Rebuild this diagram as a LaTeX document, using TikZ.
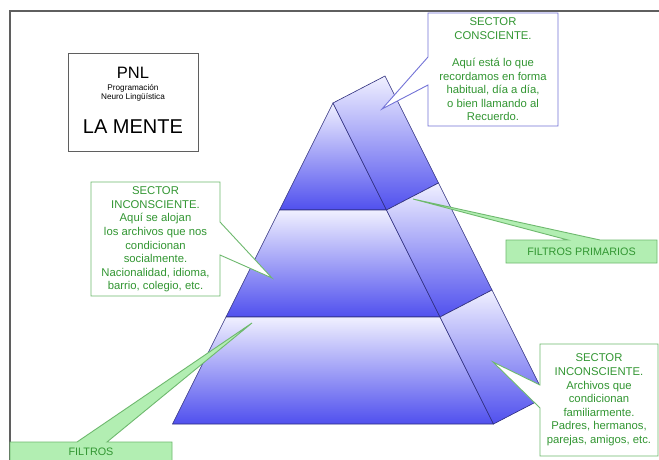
\documentclass[tikz,border=0pt]{standalone}
\usepackage{fontspec}
\setmainfont{Liberation Sans}
\definecolor{framegray}{RGB}{95,95,95}
\definecolor{navyline}{RGB}{45,45,125}
\definecolor{lightlav}{RGB}{240,240,255}
\definecolor{deepblue}{RGB}{80,80,238}
\definecolor{txtgreen}{RGB}{50,150,50}
\definecolor{boxgreen}{RGB}{110,185,110}
\definecolor{fillgreen}{RGB}{178,238,178}
\definecolor{bluebord}{RGB}{115,115,215}
\begin{document}
\begin{tikzpicture}[x=1pt,y=-1pt,
  tier/.style={draw=navyline,line width=0.6pt,top color=lightlav,bottom color=deepblue},
  callw/.style={draw=boxgreen,line width=0.9pt,fill=white},
  callb/.style={draw=bluebord,line width=0.9pt,fill=white},
  callg/.style={draw=boxgreen,line width=0.9pt,fill=fillgreen},
  ctext/.style={text=txtgreen,align=center,inner sep=0pt,font=\fontsize{11.3}{13.6}\selectfont}]
\useasboundingbox (0,0) rectangle (659,460);
\fill[white] (0,0) rectangle (659,460);
% frame
\draw[framegray,line width=1.4pt] (10,462) -- (10,11) -- (661,11);
% PNL box
\draw[framegray,line width=0.8pt] (68,53) rectangle (198,151);
\node[inner sep=0pt,font=\fontsize{16.5}{18}\selectfont] (pnl) at (133,73) {PNL};
\node[inner sep=0pt,font=\fontsize{8.2}{9.3}\selectfont,align=center] (prog) at (133,92.5) {Programación\\Neuro Lingüística};
\node[inner sep=0pt,font=\fontsize{20}{22}\selectfont] (mente) at (133,127) {LA MENTE};
% pyramid coordinates
\coordinate (A) at (333,103);
\coordinate (L1) at (279.5,210);
\coordinate (R1) at (386.5,210);
\coordinate (L2) at (226,317);
\coordinate (R2) at (440,317);
\coordinate (L3) at (172.5,424);
\coordinate (R3) at (493.5,424);
\coordinate (S0) at (385,76);
\coordinate (S1) at (438.5,183);
\coordinate (S2) at (492,290);
\coordinate (S3) at (545.5,397);
% front faces
\draw[tier] (A) -- (R1) -- (L1) -- cycle;
\draw[tier] (L1) -- (R1) -- (R2) -- (L2) -- cycle;
\draw[tier] (L2) -- (R2) -- (R3) -- (L3) -- cycle;
% side faces
\draw[tier] (A) -- (S0) -- (S1) -- (R1) -- cycle;
\draw[tier] (R1) -- (S1) -- (S2) -- (R2) -- cycle;
\draw[tier] (R2) -- (S2) -- (S3) -- (R3) -- cycle;
% callout tips
\coordinate (t1) at (382,109);
\coordinate (t2) at (272,278);
\coordinate (t3) at (413,199);
\coordinate (t4) at (252,323);
\coordinate (t5) at (493,362);
% callout 1: sector consciente
\draw[callb] (428,13) -- (558,13) -- (558,126) -- (428,126) -- (428,85) -- (t1) -- (428,57) -- cycle;
\node[ctext] (c1) at (493,69.5) {SECTOR\\CONSCIENTE.\\[13.6pt]Aquí está lo que\\recordamos en forma\\habitual, día a día,\\o bien llamando al\\Recuerdo.};
% callout 2: sector inconsciente social
\draw[callw] (91,182) -- (220,182) -- (220,222) -- (t2) -- (220,255) -- (220,296) -- (91,296) -- cycle;
\node[ctext] (c2) at (155.5,239.5) {SECTOR\\INCONSCIENTE.\\Aquí se alojan\\los archivos que nos\\condicionan\\socialmente.\\Nacionalidad, idioma,\\barrio, colegio, etc.};
% callout 3: filtros primarios
\draw[callg] (506,240) -- (568,240) -- (t3) -- (600,240) -- (657,240) -- (657,263) -- (506,263) -- cycle;
\node[ctext,font=\fontsize{10.8}{12}\selectfont] (c3) at (581.5,251.5) {FILTROS PRIMARIOS};
% callout 4: filtros
\draw[callg] (10,442) -- (77,442) -- (t4) -- (107,442) -- (172,442) -- (172,475) -- (10,475) -- cycle;
\node[ctext,font=\fontsize{10.8}{12}\selectfont] (c4) at (91,452) {FILTROS};
% callout 5: sector inconsciente familiar
\draw[callw] (540,344) -- (658,344) -- (658,456) -- (540,456) -- (540,408) -- (t5) -- (540,385) -- cycle;
\node[ctext] (c5) at (599,400) {SECTOR\\INCONSCIENTE.\\Archivos que\\condicionan\\familiarmente.\\Padres, hermanos,\\parejas, amigos, etc.};
\end{tikzpicture}
\end{document}
